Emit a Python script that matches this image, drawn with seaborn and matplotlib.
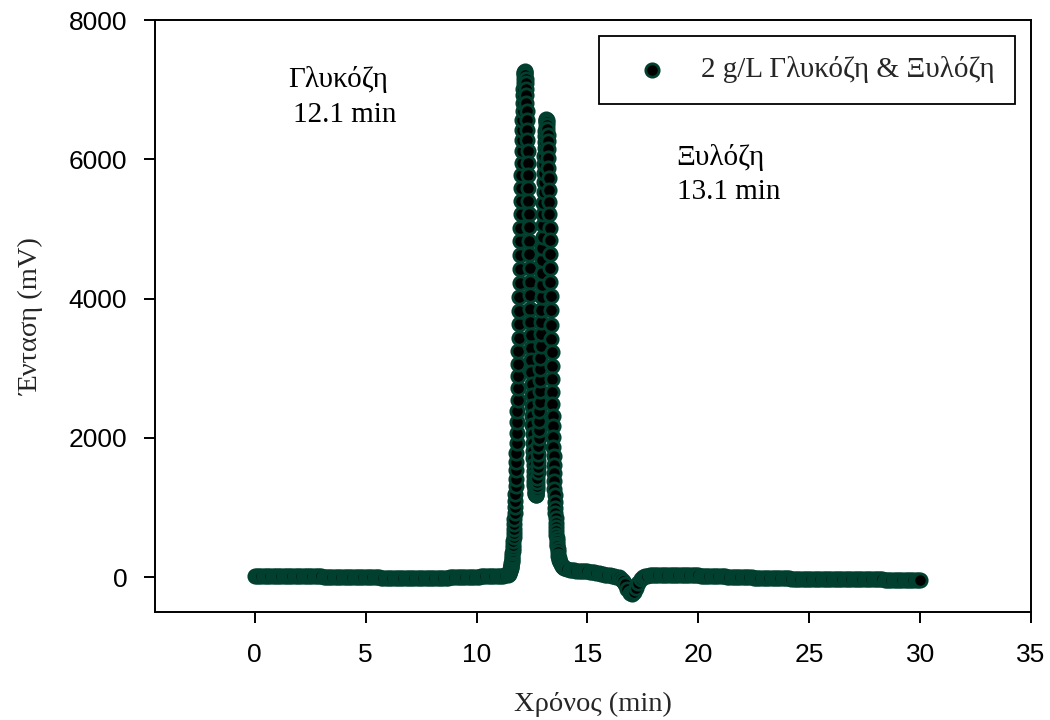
import matplotlib
matplotlib.use("Agg")
import matplotlib.pyplot as plt
import seaborn as sns
import pandas as pd

# ---------------- data ----------------
time_pre = [0.0, 0.1, 0.2, 0.3, 0.4, 0.5, 0.6, 0.7, 0.8, 0.9,
            1.0, 1.1, 1.2, 1.3, 1.4, 1.5, 1.6, 1.7, 1.8, 1.9,
            2.0, 2.1, 2.2, 2.3, 2.4, 2.5, 2.6, 2.7, 2.8, 2.9,
            3.0, 3.1, 3.2, 3.3, 3.4, 3.5, 3.6, 3.7, 3.8, 3.9,
            4.0, 4.1, 4.2, 4.3, 4.4, 4.5, 4.6, 4.7, 4.8, 4.9,
            5.0, 5.1, 5.2, 5.3, 5.4, 5.5, 5.6, 5.7, 5.8, 5.9,
            6.0, 6.1, 6.2, 6.3, 6.4, 6.5, 6.6, 6.7, 6.8, 6.9,
            7.0, 7.1, 7.2, 7.3, 7.4, 7.5, 7.6, 7.7, 7.8, 7.9,
            8.0, 8.1, 8.2, 8.3, 8.4, 8.5, 8.6, 8.7, 8.8, 8.9,
            9.0, 9.1, 9.2, 9.3, 9.4, 9.5, 9.6, 9.7, 9.8, 9.9,
            10.0, 10.1, 10.2, 10.3, 10.4, 10.5, 10.6, 10.7, 10.8, 10.9,
            11.0, 11.1, 11.2, 11.3, 11.4, 11.42, 11.44, 11.46, 11.48]
signal_pre = [10, 11, 12, 11, 10, 12, 13, 14, 13, 12,
              12, 11, 10, 11, 12, 13, 14, 13, 12, 12,
              12, 13, 14, 15, 16, 14, 12, 11, 10, 10,
              10, 9, 8, 8, 8, 7, 6, 6, 6, 5,
              4, 4, 4, 3, 2, 2, 2, 1, 0, 0,
              0, -1, -2, -3, -4, -4, -4, -5, -6, -7,
              -8, -8, -8, -9, -10, -10, -10, -10, -10, -11,
              -12, -12, -12, -12, -12, -11, -10, -10, -10, -9,
              -8, -8, -8, -7, -6, -6, -6, -5, -4, -3,
              -2, -1, 0, 1, 2, 3, 4, 5, 6, 7,
              8, 9, 10, 11, 12, 13, 14, 15, 16, 17,
              18, 20, 22, 26, 32, 40, 48, 58, 75]

time_peak = [11.50, 11.51, 11.52, 11.53, 11.54, 11.55, 11.56, 11.57, 11.58, 11.59,
             11.60, 11.61, 11.62, 11.63, 11.64, 11.65, 11.66, 11.67, 11.68, 11.69,
             11.70, 11.71, 11.72, 11.73, 11.74, 11.75, 11.76, 11.77, 11.78, 11.79,
             11.80, 11.81, 11.82, 11.83, 11.84, 11.85, 11.86, 11.87, 11.88, 11.89,
             11.90, 11.91, 11.92, 11.93, 11.94, 11.95, 11.96, 11.97, 11.98, 11.99,
             12.00, 12.01, 12.02, 12.03, 12.04, 12.05, 12.06, 12.07, 12.08, 12.09,
             12.10, 12.11, 12.12, 12.13, 12.14, 12.15, 12.16, 12.17, 12.18, 12.19,
             12.20, 12.21, 12.22, 12.23, 12.24, 12.25, 12.26, 12.27, 12.28, 12.29,
             12.30, 12.31, 12.32, 12.33, 12.34, 12.35, 12.36, 12.37, 12.38, 12.39,
             12.40, 12.41, 12.42, 12.43, 12.44, 12.45, 12.46, 12.47, 12.48, 12.49,
             12.50, 12.51, 12.52, 12.53, 12.54, 12.55, 12.56, 12.57, 12.58, 12.59,
             12.60, 12.61, 12.62, 12.63, 12.64, 12.65, 12.66, 12.67, 12.68, 12.69,
             12.70, 12.71, 12.72, 12.73, 12.74, 12.75, 12.76, 12.77, 12.78, 12.79,
             12.80, 12.81, 12.82, 12.83, 12.84, 12.85, 12.86, 12.87, 12.88, 12.89,
             12.90, 12.91, 12.92, 12.93, 12.94, 12.95, 12.96, 12.97, 12.98, 12.99,
             13.00, 13.01, 13.02, 13.03, 13.04, 13.05, 13.06, 13.07, 13.08, 13.09,
             13.10, 13.11, 13.12, 13.13, 13.14, 13.15, 13.16, 13.17, 13.18, 13.19,
             13.20, 13.21, 13.22, 13.23, 13.24, 13.25, 13.26, 13.27, 13.28, 13.29,
             13.30, 13.31, 13.32, 13.33, 13.34, 13.35, 13.36, 13.37, 13.38, 13.39,
             13.40, 13.41, 13.42, 13.43, 13.44, 13.45, 13.46, 13.47, 13.48, 13.49,
             13.50, 13.51, 13.52, 13.53, 13.54, 13.55, 13.56, 13.57, 13.58, 13.59,
             13.60, 13.61, 13.62, 13.63, 13.64, 13.65, 13.67, 13.69, 13.71, 13.73,
             13.75, 13.80, 13.85, 13.90, 13.95, 14.00, 14.10]
signal_peak = [95, 105, 117, 130, 145, 162, 180, 201, 224, 250,
               278, 309, 343, 382, 423, 469, 519, 573, 632, 696,
               765, 840, 920, 1006, 1099, 1197, 1302, 1413, 1532, 1656,
               1787, 1925, 2070, 2222, 2379, 2542, 2711, 2886, 3066, 3251,
               3439, 3631, 3826, 4024, 4223, 4422, 4622, 4821, 5018, 5212,
               5404, 5590, 5771, 5946, 6114, 6273, 6423, 6563, 6693, 6811,
               6917, 7010, 7090, 7156, 7208, 7245, 7260, 7262, 7258, 7240,
               7208, 7156, 7090, 7010, 6917, 6811, 6693, 6563, 6423, 6273,
               6114, 5946, 5771, 5590, 5404, 5221, 5028, 4833, 4636, 4439,
               4243, 4047, 3853, 3662, 3475, 3292, 3114, 2941, 2775, 2615,
               2462, 2317, 2179, 2049, 1927, 1815, 1711, 1616, 1531, 1454,
               1387, 1328, 1280, 1241, 1211, 1191, 1180, 1179, 1188, 1205,
               1231, 1268, 1313, 1367, 1431, 1504, 1585, 1675, 1772, 1879,
               1993, 2115, 2244, 2379, 2522, 2671, 2826, 2985, 3149, 3317,
               3489, 3663, 3839, 4017, 4194, 4372, 4548, 4722, 4884, 5053,
               5217, 5374, 5526, 5670, 5805, 5932, 6049, 6156, 6251, 6336,
               6408, 6468, 6514, 6548, 6565, 6572, 6566, 6539, 6494, 6431,
               6352, 6257, 6145, 6020, 5880, 5728, 5564, 5391, 5208, 5017,
               4837, 4639, 4439, 4237, 4033, 3829, 3626, 3425, 3228, 3035,
               2846, 2663, 2487, 2321, 2164, 2013, 1871, 1736, 1610, 1491,
               1379, 1273, 1174, 1081, 997, 919, 847, 779, 718, 662,
               610, 563, 519, 479, 443, 410, 355, 310, 275, 247,
               225, 189, 167, 150, 138, 128, 115]

time_post = [14.2, 14.3, 14.4, 14.5, 14.6, 14.7, 14.8, 14.9,
             15.0, 15.1, 15.2, 15.3, 15.4, 15.5, 15.6, 15.7, 15.8, 15.9,
             16.0, 16.1, 16.2, 16.3, 16.4, 16.5, 16.6, 16.7, 16.8, 16.9,
             17.0, 17.1, 17.2, 17.3, 17.4, 17.5, 17.6, 17.7, 17.8, 17.9,
             18.0, 18.1, 18.2, 18.3, 18.4, 18.5, 18.6, 18.7, 18.8, 18.9,
             19.0, 19.1, 19.2, 19.3, 19.4, 19.5, 19.6, 19.7, 19.8, 19.9,
             20.0, 20.1, 20.2, 20.3, 20.4, 20.5, 20.6, 20.7, 20.8, 20.9,
             21.0, 21.1, 21.2, 21.3, 21.4, 21.5, 21.6, 21.7, 21.8, 21.9,
             22.0, 22.1, 22.2, 22.3, 22.4, 22.5, 22.6, 22.7, 22.8, 22.9,
             23.0, 23.1, 23.2, 23.3, 23.4, 23.5, 23.6, 23.7, 23.8, 23.9,
             24.0, 24.1, 24.2, 24.3, 24.4, 24.5, 24.6, 24.7, 24.8, 24.9,
             25.0, 25.1, 25.2, 25.3, 25.4, 25.5, 25.6, 25.7, 25.8, 25.9,
             26.0, 26.1, 26.2, 26.3, 26.4, 26.5, 26.6, 26.7, 26.8, 26.9,
             27.0, 27.1, 27.2, 27.3, 27.4, 27.5, 27.6, 27.7, 27.8, 27.9,
             28.0, 28.1, 28.2, 28.3, 28.4, 28.5, 28.6, 28.7, 28.8, 28.9,
             29.0, 29.1, 29.2, 29.3, 29.4, 29.5, 29.6, 29.7, 29.8, 29.9,
             30.0]
signal_post = [105, 102, 98, 95, 92, 90, 88, 87,
               85, 80, 75, 68, 62, 55, 48, 42, 36, 30,
               25, 18, 12, 5, -2, -20, -50, -100, -165, -225,
               -245, -220, -150, -80, -30, 0, 15, 20, 25, 28,
               30, 31, 32, 33, 34, 34, 35, 35, 35, 35,
               34, 34, 33, 33, 32, 31, 30, 29, 28, 27,
               25, 24, 22, 21, 20, 19, 18, 17, 15, 14,
               12, 11, 10, 9, 8, 7, 5, 4, 2, 1,
               0, -1, -2, -3, -4, -5, -6, -7, -8, -9,
               -10, -11, -12, -13, -14, -14, -15, -15, -16, -17,
               -18, -19, -20, -20, -20, -21, -22, -22, -22, -23,
               -24, -24, -24, -24, -25, -25, -25, -25, -26, -26,
               -26, -26, -27, -27, -27, -27, -28, -28, -28, -28,
               -29, -29, -30, -30, -30, -30, -31, -31, -32, -32,
               -32, -32, -33, -33, -34, -34, -34, -34, -35, -35,
               -36, -36, -37, -37, -38, -38, -38, -38, -39, -39,
               -40]

series_label = "2 g/L Γλυκόζη & Ξυλόζη"
x_ticks = [0, 5, 10, 15, 20, 25, 30, 35]
y_ticks = [0, 2000, 4000, 6000, 8000]

df = pd.DataFrame({
    "time": time_pre + time_peak + time_post,
    "signal": signal_pre + signal_peak + signal_post,
})

# ---------------- plot ----------------
sns.set_style("ticks")
plt.rcParams["font.family"] = ["Liberation Serif", "DejaVu Serif"]

fig = plt.figure(figsize=(10.5, 7.2), dpi=100)
ax = fig.add_axes([155 / 1050, 1 - 612 / 720, 876 / 1050, 592 / 720])

sns.scatterplot(data=df, x="time", y="signal", ax=ax, s=92, color="black",
                edgecolor="#013f2f", linewidth=2.0, label=series_label, zorder=3)

ax.set_xlim(-4.5, 35)
ax.set_ylim(-500, 8000)
ax.set_xticks(x_ticks)
ax.set_yticks(y_ticks)

for sp in ax.spines.values():
    sp.set_visible(True)
    sp.set_linewidth(1.4)
    sp.set_color("black")

ax.tick_params(direction="out", length=8, width=1.4, colors="black")
ax.tick_params(axis="x", pad=14)
ax.tick_params(axis="y", pad=12)
for lab in ax.get_xticklabels() + ax.get_yticklabels():
    lab.set_fontfamily("Liberation Sans")
    lab.set_fontsize(19)

ax.set_xlabel("Χρόνος (min)", fontsize=20.5, family="Liberation Serif", labelpad=18)
ax.set_ylabel("Ένταση (mV)", fontsize=20.5, family="Liberation Serif", labelpad=18)

txt_kw = dict(fontsize=21, family="Liberation Serif", color="black", va="baseline", ha="left")
ax.text(1.49, 7044, "Γλυκόζη", **txt_kw)
ax.text(1.71, 6542, "12.1 min", **txt_kw)
ax.text(19.0, 5921, "Ξυλόζη", **txt_kw)
ax.text(19.05, 5434, "13.1 min", **txt_kw)

leg = ax.legend(loc="upper right", bbox_to_anchor=(0.982, 0.973), frameon=True,
                fancybox=False, edgecolor="black", framealpha=1,
                prop={"family": "Liberation Serif", "size": 21},
                borderpad=0.7, handlelength=2.2, handletextpad=0.6,
                borderaxespad=0)
leg.get_frame().set_linewidth(1.3)

fig.savefig("out.png", dpi=100)
